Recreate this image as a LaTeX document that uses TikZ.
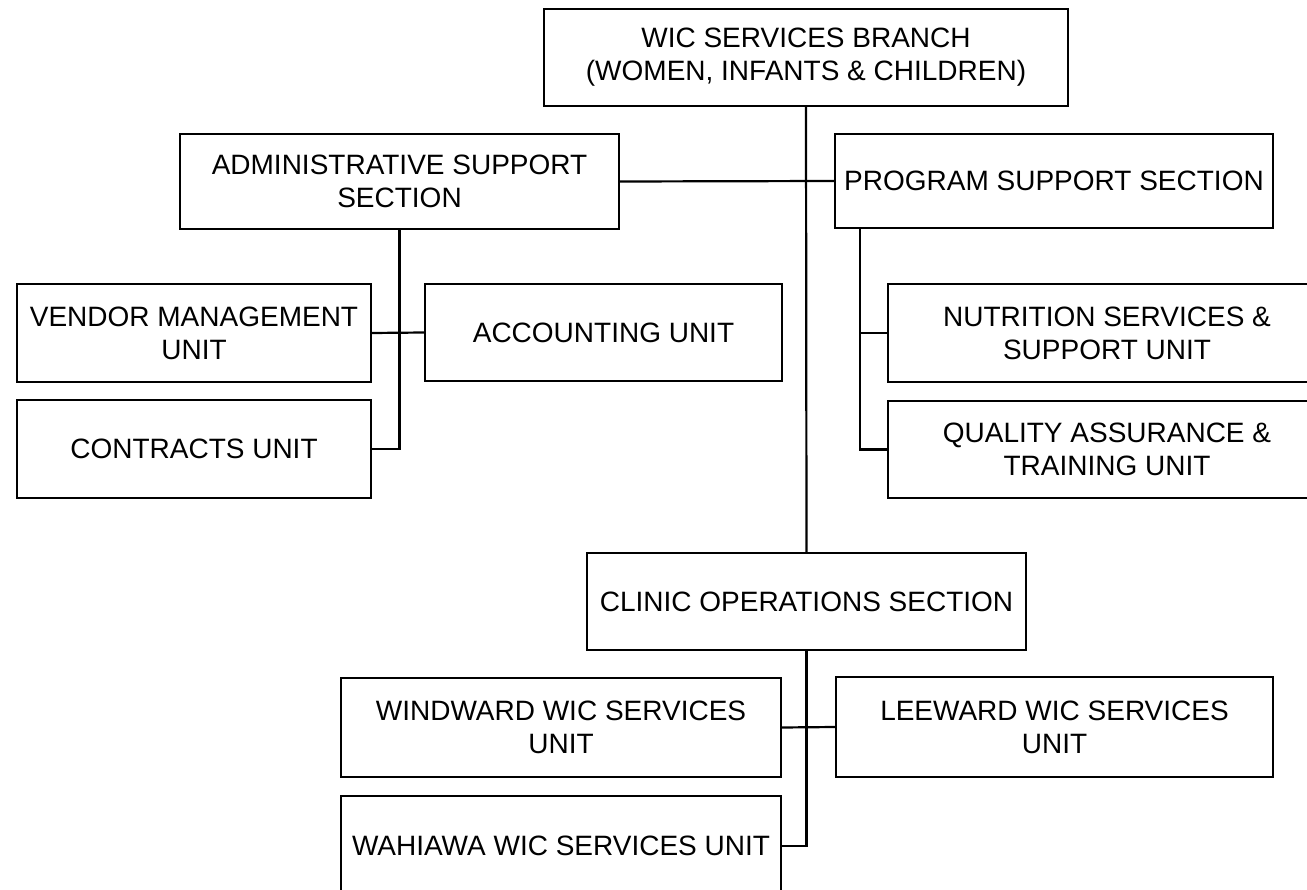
\documentclass[tikz,border=0pt]{standalone}
\usepackage{fontspec}
\setmainfont{Liberation Sans}
\usetikzlibrary{calc}
\begin{document}
\begin{tikzpicture}[x=1pt,y=-1pt,
  box/.style={draw, line width=2.2pt, align=center, inner sep=0pt, font=\fontsize{28}{33}\selectfont},
  conn/.style={line width=2.2pt}]
\useasboundingbox (0,0) rectangle (1307,890);
\clip (0,0) rectangle (1307,890);
\node[box, minimum width=524pt, minimum height=97pt] (top) at (806,57.5) {WIC SERVICES BRANCH\\(WOMEN, INFANTS \& CHILDREN)};
\node[box, minimum width=439pt, minimum height=95pt] (admin) at (399.5,181.5) {ADMINISTRATIVE SUPPORT\\SECTION};
\node[box, minimum width=438pt, minimum height=94pt] (program) at (1054,181) {PROGRAM SUPPORT SECTION};
\node[box, minimum width=354pt, minimum height=98pt] (vendor) at (194,333) {VENDOR MANAGEMENT\\UNIT};
\node[box, minimum width=357pt, minimum height=97pt] (accounting) at (603.5,332.5) {ACCOUNTING UNIT};
\node[box, minimum width=354pt, minimum height=98pt] (contracts) at (194,449) {CONTRACTS UNIT};
\node[box, minimum width=438pt, minimum height=98pt] (nutrition) at (1107,333) {NUTRITION SERVICES \&\\SUPPORT UNIT};
\node[box, minimum width=438pt, minimum height=97pt] (quality) at (1107,449.5) {QUALITY ASSURANCE \&\\TRAINING UNIT};
\node[box, minimum width=439pt, minimum height=97pt] (clinic) at (806.5,601.5) {CLINIC OPERATIONS SECTION};
\node[box, minimum width=440pt, minimum height=99pt] (windward) at (561,727.5) {WINDWARD WIC SERVICES\\UNIT};
\node[box, minimum width=437pt, minimum height=100pt] (leeward) at (1054.5,727) {LEEWARD WIC SERVICES\\UNIT};
\node[box, minimum width=440pt, minimum height=100pt] (wahiawa) at (561,846) {WAHIAWA WIC SERVICES UNIT};
\draw[conn] (top.south) -- (clinic.north);
\draw[conn] (admin.east) -- (program.west);
\draw[conn] (admin.south) |- (contracts.east);
\draw[conn] (vendor.east) -- (accounting.west);
\coordinate (pj) at ([xshift=26pt]program.south west);
\draw[conn] (pj) |- (quality.west);
\draw[conn] (pj |- nutrition.west) -- (nutrition.west);
\draw[conn] (clinic.south) |- (wahiawa.east);
\draw[conn] (windward.east) -- (leeward.west);
\end{tikzpicture}
\end{document}
